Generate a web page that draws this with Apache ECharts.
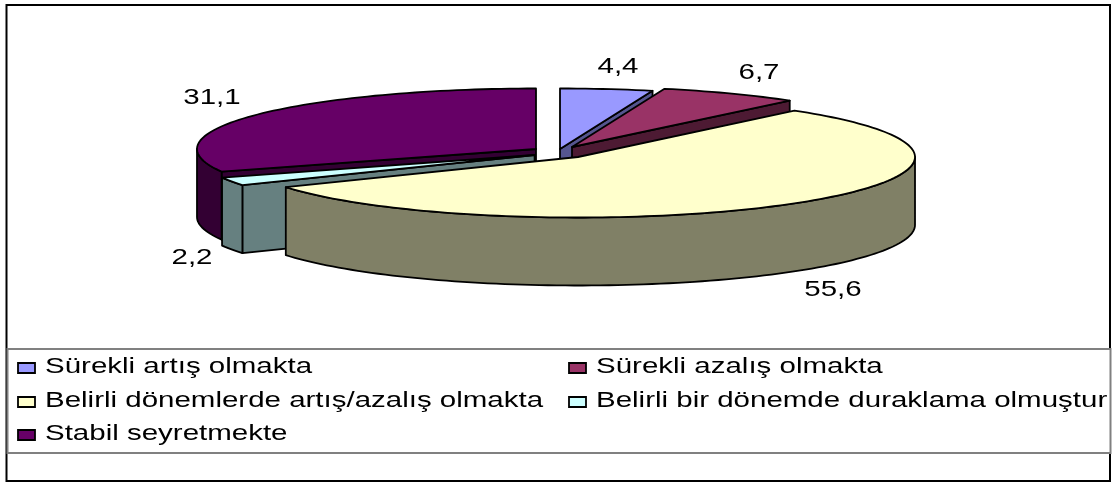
<!DOCTYPE html>
<html>
<head>
<meta charset="utf-8">
<style>html,body{margin:0;padding:0;background:#fff}#c{width:1112px;height:482px}</style>
<script src="https://cdn.jsdelivr.net/npm/echarts@6/dist/echarts.min.js"></script>
</head>
<body>
<div id="c"></div>
<script>
var categories = ['Sürekli artış olmakta','Sürekli azalış olmakta','Belirli dönemlerde artış/azalış olmakta','Belirli bir dönemde duraklama olmuştur','Stabil seyretmekte'];
var values = [4.4, 6.7, 55.6, 2.2, 31.1];
var valueLabels = ['4,4','6,7','55,6','2,2','31,1'];
var topColors = ['#9999FF','#993366','#FFFFCC','#CCFFFF','#660066'];
var wallColors = ['#55558F','#4D1A33','#808066','#668080','#330033'];

// layout only
var centers = [[560,149],[572,147],[578,157],[534.6,155],[536,149]];
var radiiX = [339,339,337,337,339];
var labelPos = [[618,67],[759,73],[833,290],[192,258],[212,98]];
var legendPos = [[18,363],[569,363],[18,397],[569,397],[18,430]];
var drawOrder = [0,1,4,3,2];
var RY = 60.5, DEPTH = 68, TEXT_SCALE = 1.34;
var FONT = '"Liberation Sans", Arial, sans-serif';
var total = values.reduce(function(a,b){return a+b;},0);

function pt(i, deg, dy){
  var c = centers[i], t = deg*Math.PI/180;
  return [c[0]+radiiX[i]*Math.sin(t), c[1]-RY*Math.cos(t)+(dy||0)];
}
function arc(i, a, b, dy){
  var n = Math.max(2, Math.ceil(Math.abs(b-a)/1.5)), out=[];
  for (var k=0;k<=n;k++) out.push(pt(i, a+(b-a)*k/n, dy));
  return out;
}
function poly(points, fill, z2){
  return {type:'polygon', z2:z2, shape:{points:points},
    style:{fill:fill, stroke:'#000', lineWidth:1.8, lineJoin:'round'}};
}
function renderSlice(params, api){
  var i = params.dataIndex, val = api.value(1);
  var before = 0;
  for (var k=0;k<i;k++) before += values[k];
  var a = before/total*360, b = (before+val)/total*360;
  var c = centers[i], base = (drawOrder.indexOf(i)+1)*10;
  var low = [c[0], c[1]+DEPTH];
  var children = [];
  // cut faces that turn toward the viewer
  if (a > 180) children.push(poly([c, pt(i,a), pt(i,a,DEPTH), low], wallColors[i], base));
  if (b < 180) children.push(poly([c, pt(i,b), pt(i,b,DEPTH), low], wallColors[i], base+1));
  // front-facing part of the rim
  var fa = Math.max(a,90), fb = Math.min(b,270);
  if (fb > fa) children.push(poly(arc(i,fa,fb,0).concat(arc(i,fb,fa,DEPTH)), wallColors[i], base+2));
  children.push(
    poly([c].concat(arc(i,a,b,0)), topColors[i], base+3),
    {type:'text', x:labelPos[i][0], y:labelPos[i][1], scaleX:TEXT_SCALE, z2:100,
      style:{text:valueLabels[i], fill:'#000', font:'22px '+FONT, textAlign:'center', textVerticalAlign:'middle'}},
    {type:'rect', z2:100, shape:{x:legendPos[i][0], y:legendPos[i][1], width:17, height:10},
      style:{fill:topColors[i], stroke:'#000', lineWidth:1.8}},
    {type:'text', x:legendPos[i][0]+27, y:legendPos[i][1]+4, scaleX:TEXT_SCALE, z2:100,
      style:{text:categories[i], fill:'#000', font:'22px '+FONT, textAlign:'left', textVerticalAlign:'middle'}}
  );
  return {type:'group', children:children};
}
var chart = echarts.init(document.getElementById('c'), null, {renderer:'canvas'});
chart.setOption({
  animation:false,
  backgroundColor:'#fff',
  graphic:[
    {type:'rect', z:0, shape:{x:6.5,y:5,width:1103.5,height:476}, style:{fill:'#fff',stroke:'#000',lineWidth:2}},
    {type:'rect', z:1, shape:{x:7.5,y:349,width:1103,height:104}, style:{fill:'#fff',stroke:'#808080',lineWidth:2}}
  ],
  series:[{
    type:'custom', coordinateSystem:'none', silent:true, z:5,
    renderItem:renderSlice,
    data:categories.map(function(n,i){return {name:n, value:[i, values[i]]};})
  }]
});
</script>
</body>
</html>
